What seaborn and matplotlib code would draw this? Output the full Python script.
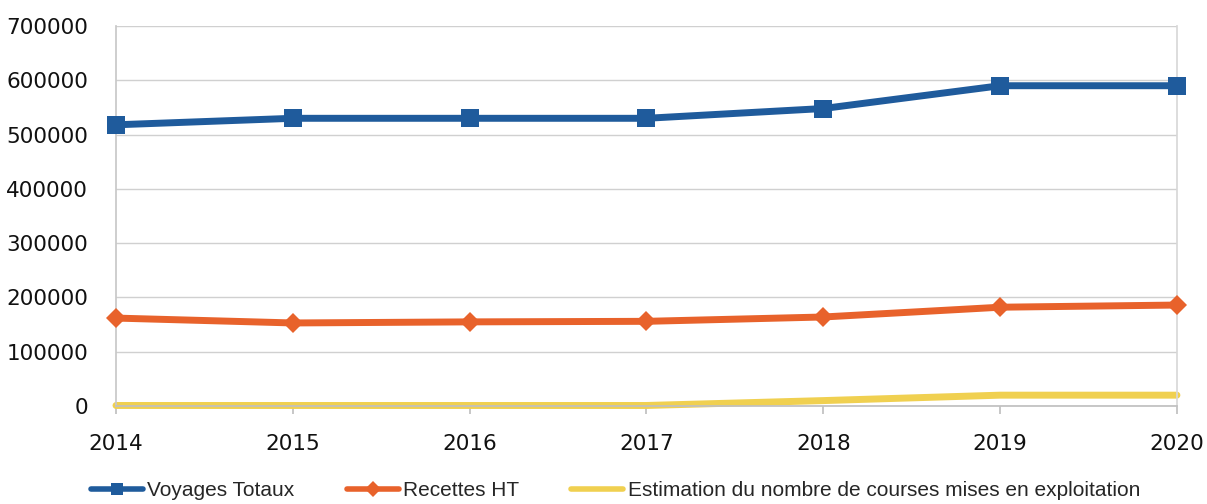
import matplotlib
matplotlib.use("Agg")
import matplotlib.pyplot as plt
import seaborn as sns
import pandas as pd

years = [2014, 2015, 2016, 2017, 2018, 2019, 2020]
voyages = [518000, 530000, 530000, 530000, 548000, 590000, 590000]
recettes = [162000, 153000, 155000, 156000, 164000, 182000, 186000]
courses = [1000, 1000, 1000, 1000, 10000, 20000, 20000]
series_names = ["Voyages Totaux", "Recettes HT",
                "Estimation du nombre de courses mises en exploitation"]
y_ticks = [0, 100000, 200000, 300000, 400000, 500000, 600000, 700000]

sns.set_theme(style="white")
plt.rcParams['font.family'] = ['DejaVu Sans']

df = pd.DataFrame({"year": years * 3,
                   "value": voyages + recettes + courses,
                   "serie": [series_names[0]] * 7 + [series_names[1]] * 7 + [series_names[2]] * 7})

fig = plt.figure(figsize=(12.07, 5.04), dpi=100)
ax = fig.add_axes([0.0961, 0.1944, 0.8790, 0.7540])

colors = ["#1f5b9c", "#e8622b", "#f0d050"]
styles = [dict(marker="s", markersize=13, lw=5),
          dict(marker="D", markersize=10, lw=5),
          dict(marker=None, lw=5)]
for name, c, st in zip(series_names, colors, styles):
    sub = df[df["serie"] == name]
    sns.lineplot(data=sub, x="year", y="value", ax=ax, color=c, label=name,
                 marker=st["marker"], markersize=st.get("markersize", 0),
                 linewidth=st["lw"], markeredgewidth=0, clip_on=False, zorder=3 if st["marker"] else 2)

ax.set_xlim(2014, 2020)
ax.set_ylim(0, 700000)
ax.set_yticks(y_ticks)
ax.set_yticklabels([str(v) for v in y_ticks])
ax.set_xticks(years)
ax.set_xticklabels([str(y) for y in years])
ax.set_xlabel("")
ax.set_ylabel("")
ax.grid(axis="y", color="#d0d0d0", lw=1)
ax.grid(axis="x", visible=False)
ax.spines["top"].set_visible(False)
ax.spines["right"].set_color("#d8d8d8")
ax.spines["left"].set_color("#c8c8c8")
ax.spines["bottom"].set_color("#c0c0c0")
ax.tick_params(axis="y", length=0, pad=20, labelsize=15.5, labelcolor="#111111")
ax.tick_params(axis="x", direction="out", length=6, color="#c0c0c0", pad=14,
               labelsize=15.5, labelcolor="#111111", bottom=True)

leg = ax.legend(loc="center", bbox_to_anchor=(0.51, 0.026), bbox_transform=fig.transFigure,
                ncol=3, frameon=False,
                prop={"family": "Liberation Sans", "size": 15}, handlelength=2.5,
                columnspacing=2.5, handletextpad=0.2)
for h in leg.legend_handles:
    h.set_linewidth(4)
    h.set_markersize(8)

fig.savefig("out.png", dpi=100)
